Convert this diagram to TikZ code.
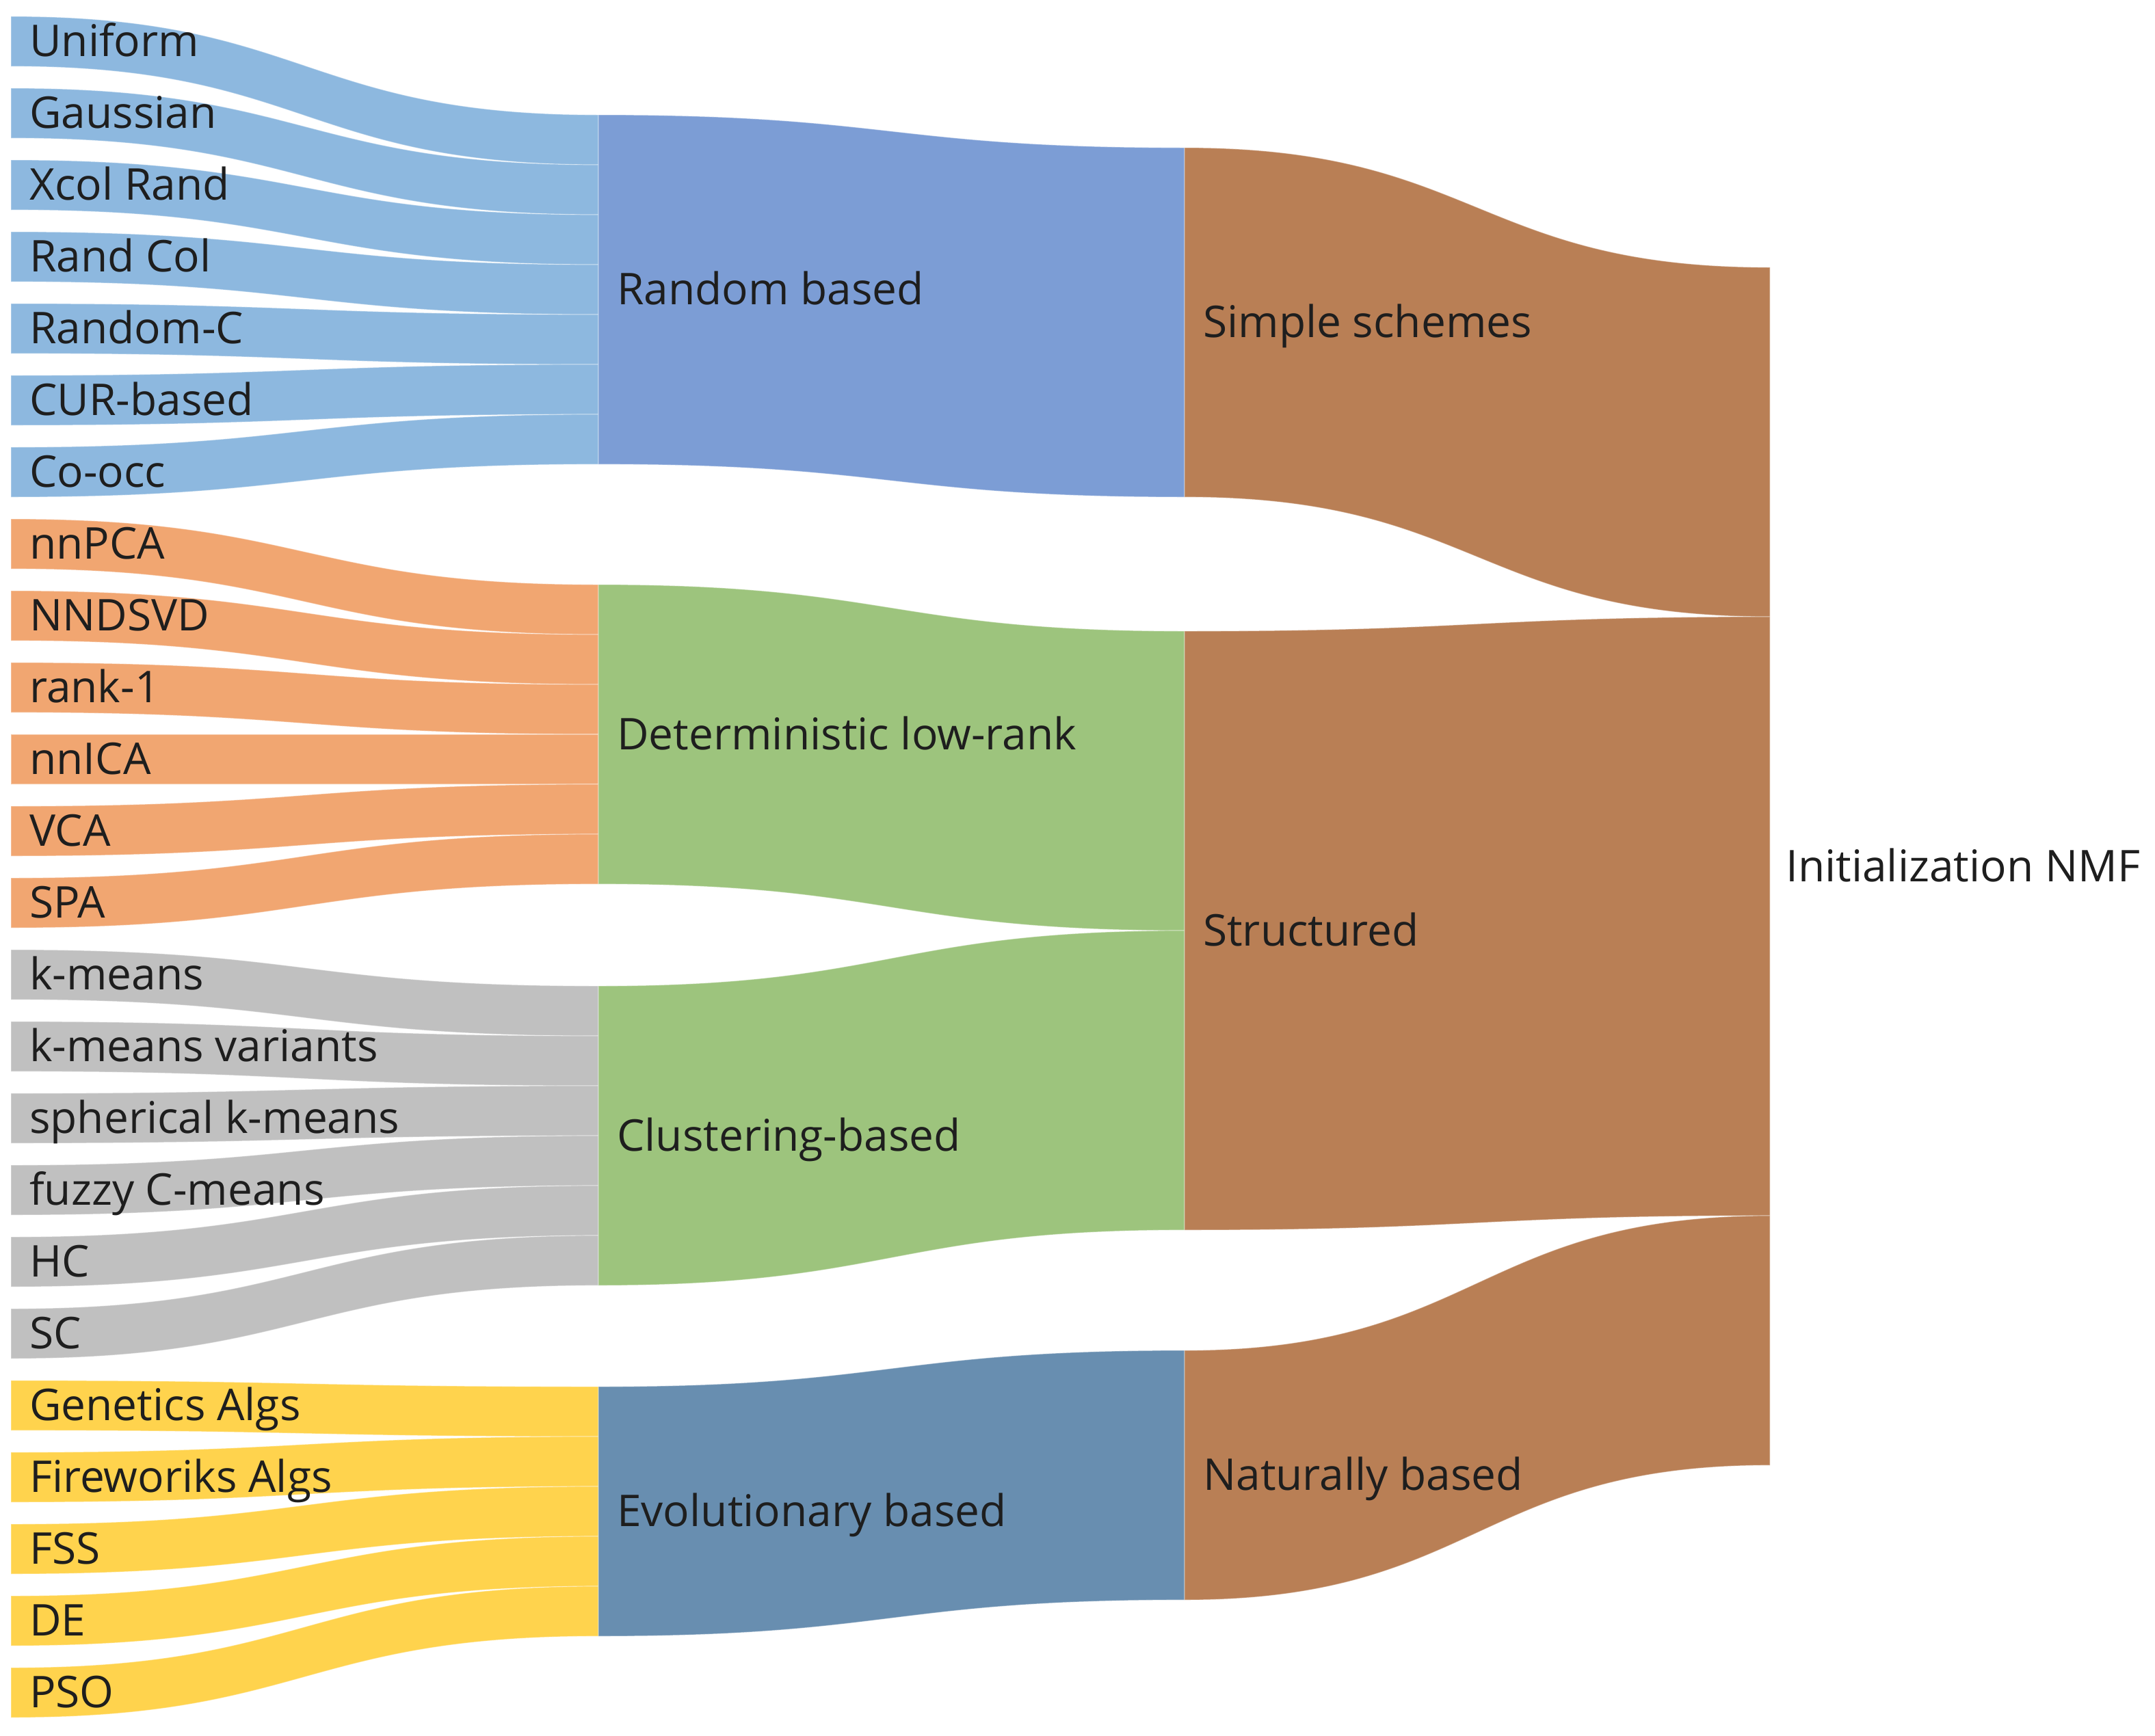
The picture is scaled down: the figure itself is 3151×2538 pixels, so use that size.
\documentclass[tikz,border=0pt]{standalone}
\usepackage{fontspec}
\setmainfont{Open Sans}
\definecolor{leafblue}{RGB}{141,184,223}
\definecolor{leaforange}{RGB}{241,166,113}
\definecolor{leafgray}{RGB}{192,192,192}
\definecolor{leafyellow}{RGB}{255,211,77}
\definecolor{midblue}{RGB}{124,157,213}
\definecolor{midgreen}{RGB}{157,196,125}
\definecolor{midsteel}{RGB}{104,142,176}
\definecolor{brown}{RGB}{185,127,85}
\definecolor{txt}{RGB}{30,30,30}
% band: x0, y0(top), x1, y1(top), height, colour
\newcommand\sband[6]{%
  \pgfmathsetmacro\xmid{(#1+#3)/2}%
  \fill[#6,draw=white,draw opacity=0.35,line width=1.2pt]
    (#1,#2) .. controls (\xmid,#2) and (\xmid,#4) .. (#3,#4)
    -- (#3,#4+#5) .. controls (\xmid,#4+#5) and (\xmid,#2+#5) .. (#1,#2+#5) -- cycle;}
\tikzset{lbl/.style={anchor=base west, inner sep=0pt, text=txt, font=\fontsize{64}{77}\selectfont}}
\begin{document}
\begin{tikzpicture}[x=1pt,y=-1pt]
\useasboundingbox (0,0) rectangle (3151,2538);
% node columns
\coordinate (colA) at (16,0);
\coordinate (colB) at (875,0);
\coordinate (colC) at (1732,0);
\coordinate (colD) at (2588,0);
% leaf -> category links
\foreach \lab/\gtop/\j/\col [count=\i from 0] in {
  Uniform/168/0/leafblue, Gaussian/168/1/leafblue, Xcol Rand/168/2/leafblue,
  Rand Col/168/3/leafblue, Random-C/168/4/leafblue, CUR-based/168/5/leafblue,
  Co-occ/168/6/leafblue,
  nnPCA/855/0/leaforange, NNDSVD/855/1/leaforange, rank-1/855/2/leaforange,
  nnICA/855/3/leaforange, VCA/855/4/leaforange, SPA/855/5/leaforange,
  k-means/1442/0/leafgray, k-means variants/1442/1/leafgray,
  spherical k-means/1442/2/leafgray, fuzzy C-means/1442/3/leafgray,
  HC/1442/4/leafgray, SC/1442/5/leafgray,
  Genetics Algs/2028/0/leafyellow, Fireworiks Algs/2028/1/leafyellow,
  FSS/2028/2/leafyellow, DE/2028/3/leafyellow, PSO/2028/4/leafyellow}{
  \sband{16}{24+105*\i}{875}{\gtop+73*\j}{73}{\col}
}
% category -> family links
\sband{875}{168}{1732}{216}{511}{midblue}
\sband{875}{855}{1732}{923}{438}{midgreen}
\sband{875}{1442}{1732}{1361}{438}{midgreen}
\sband{875}{2028}{1732}{1975}{365}{midsteel}
% family -> root links
\sband{1732}{216}{2588}{391}{511}{brown}
\sband{1732}{923}{2588}{902}{876}{brown}
\sband{1732}{1975}{2588}{1778}{365}{brown}
% leaf labels
\foreach \lab [count=\i from 0] in {Uniform, Gaussian, Xcol Rand, Rand Col,
  Random-C, CUR-based, Co-occ, nnPCA, NNDSVD, rank-1, nnICA, VCA, SPA,
  k-means, k-means variants, spherical k-means, fuzzy C-means, HC, SC,
  Genetics Algs, Fireworiks Algs, FSS, DE, PSO}{
  \node[lbl] (leaf\i) at (43, 24+105*\i+36.5+22) {\lab};
}
% category labels
\node[lbl] (random) at (902, 168+255.5+22) {Random based};
\node[lbl] (determ) at (902, 855+219+22) {Deterministic low-rank};
\node[lbl] (clust) at (902, 1442+219+22) {Clustering-based};
\node[lbl] (evo) at (902, 2028+182.5+22) {Evolutionary based};
% family labels
\node[lbl] (simple) at (1759, 216+255.5+22) {Simple schemes};
\node[lbl] (struct) at (1759, 923+438+22) {Structured};
\node[lbl] (natural) at (1759, 1975+182.5+22) {Naturally based};
% root label
\node[lbl] (root) at (2611, 391+876+22) {Initialization NMF};
\end{tikzpicture}
\end{document}
